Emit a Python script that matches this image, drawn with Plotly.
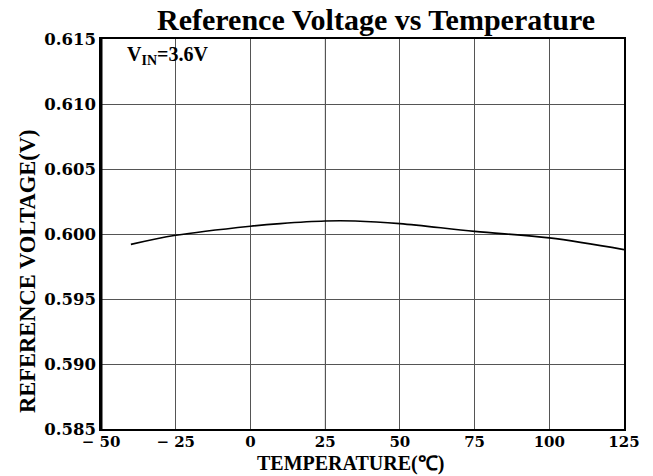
import plotly.graph_objects as go

temps = [-40, -25, 0, 10, 25, 35, 50, 75, 100, 125]
vref = [0.5992, 0.5999, 0.6006, 0.6008, 0.6010, 0.6010, 0.6008, 0.6002, 0.5997, 0.5988]
x_ticks = [-50, -25, 0, 25, 50, 75, 100, 125]
x_ticktext = ["\u2212 50", "\u2212 25", "0", "25", "50", "75", "100", "125"]
y_ticks = [0.585, 0.590, 0.595, 0.600, 0.605, 0.610, 0.615]
y_ticktext = ["0.585", "0.590", "0.595", "0.600", "0.605", "0.610", "0.615"]

serif = "Liberation Serif"
tickfam = "DejaVu Serif"

W, H = 653, 476
L, R, T, B = 101, 29, 39, 47
PW, PH = W - L - R, H - T - B

fig = go.Figure()
fig.add_trace(go.Scatter(x=temps, y=vref, mode="lines",
                         line=dict(color="black", width=1.6, shape="spline", smoothing=1.0),
                         showlegend=False, hoverinfo="skip"))

# lighter gridline at 25
fig.add_shape(type="line", x0=25, x1=25, y0=0.585, y1=0.615, xref="x", yref="y",
              line=dict(color="#b0b0b0", width=1), layer="below")

fig.update_layout(
    width=W, height=H,
    margin=dict(l=L, r=R, t=T, b=B, autoexpand=False),
    paper_bgcolor="white", plot_bgcolor="white",
    font=dict(family=serif, color="black"),
    title=dict(text="<b>Reference Voltage vs Temperature</b>", x=376 / W, xanchor="center",
               xref="container", y=1 - 19 / H, yref="container", yanchor="middle",
               font=dict(size=30, family=serif, color="black")),
    xaxis=dict(range=[-50, 125], tickvals=x_ticks, ticktext=["<b>%s</b>" % t for t in x_ticktext],
               showgrid=True, gridcolor="#555555", gridwidth=1, automargin=False,
               showline=True, linecolor="black", linewidth=1.5, mirror=True,
               ticks="", ticklen=0, ticklabelstandoff=-2,
               tickfont=dict(size=15, family=tickfam, color="black"),
               zeroline=False),
    yaxis=dict(range=[0.585, 0.615], tickvals=y_ticks, ticktext=["<b>%s</b>" % t for t in y_ticktext],
               showgrid=True, gridcolor="#555555", gridwidth=1, automargin=False,
               showline=True, linecolor="black", linewidth=1.5, mirror=True,
               ticks="", ticklen=0, tickfont=dict(size=16.5, family=tickfam, color="black"),
               zeroline=False),
)

# heavier left axis
fig.add_shape(type="line", x0=0, x1=0, y0=0, y1=1, xref="x domain", yref="y domain",
              line=dict(color="black", width=3))

# axis titles (positions in plot-area fractions)
fig.add_annotation(x=(350 - L) / PW, y=(H - B - 464) / PH, xref="paper", yref="paper",
                   text="<b>TEMPERATURE(\u2103)</b>", showarrow=False,
                   xanchor="center", yanchor="middle",
                   font=dict(size=20, family=serif, color="black"))
fig.add_annotation(x=(27 - L) / PW, y=(H - B - 271) / PH, xref="paper", yref="paper",
                   text="<b>REFERENCE VOLTAGE(V)</b>", showarrow=False, textangle=-90,
                   xanchor="center", yanchor="middle",
                   font=dict(size=22.5, family=serif, color="black"))

fig.add_annotation(x=-42, y=0.6137, xref="x", yref="y", text="<b>V<sub>IN</sub>=3.6V</b>",
                   showarrow=False, xanchor="left", yanchor="middle",
                   font=dict(size=20, family=serif, color="black"))

fig.write_html("out.html", config={"displayModeBar": False},
               post_script="document.body.style.margin='0';document.body.style.padding='0';")
